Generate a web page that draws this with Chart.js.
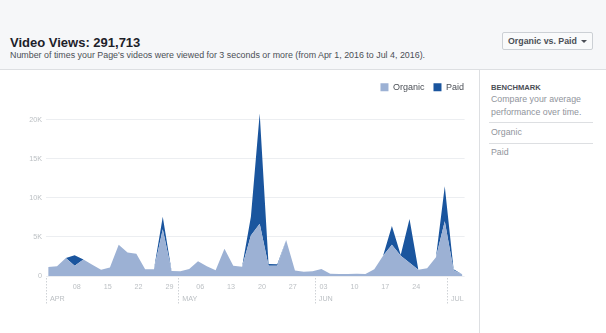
<!DOCTYPE html>
<html>
<head>
<meta charset="utf-8">
<script src="https://cdn.jsdelivr.net/npm/chart.js@4.4.1/dist/chart.umd.min.js"></script>
<style>
  body { margin: 0; width: 606px; height: 333px; background: #fff; font-family: 'Liberation Sans', Arial, sans-serif; position: relative; overflow: hidden; }
  .abs { position: absolute; white-space: nowrap; line-height: 1; }
  #header { position: absolute; left: 0; top: 0; width: 606px; height: 69px; background: #f6f7f9; border-bottom: 1px solid #dddfe2; }
  #title { left: 10px; top: 35.8px; font-size: 13px; font-weight: bold; color: #1d2129; }
  #subtitle { left: 10px; top: 50.5px; font-size: 8.9px; color: #4b4f56; }
  #button { position: absolute; left: 502px; top: 32px; width: 89px; height: 16px; border: 1px solid #ccd0d5; border-radius: 2px; background: #f9fafb; }
  #button span { position: absolute; left: 5px; top: 4px; font-size: 8.8px; font-weight: bold; color: #4b4f56; line-height: 1; }
  #button i { position: absolute; left: 78px; top: 7px; border-top: 3px solid #4b4f56; border-left: 3px solid transparent; border-right: 3px solid transparent; }
  #divider { position: absolute; left: 479px; top: 70px; width: 1px; height: 263px; background: #dddfe2; }
  .rule { position: absolute; left: 489px; width: 104px; height: 1px; background: #dddfe2; }
  .side { left: 491px; font-size: 8.8px; color: #90949c; }
  #bench { left: 491px; top: 83.7px; font-size: 7.6px; font-weight: bold; color: #4b4f56; }
  #chartWrap { position: absolute; left: 0; top: 70px; }
</style>
</head>
<body>
<div id="header"></div>
<div id="title" class="abs">Video Views: 291,713</div>
<div id="subtitle" class="abs">Number of times your Page's videos were viewed for 3 seconds or more (from Apr 1, 2016 to Jul 4, 2016).</div>
<div id="button"><span>Organic vs. Paid</span><i></i></div>
<div id="divider"></div>
<div id="bench" class="abs">BENCHMARK</div>
<div class="abs side" style="top:95.2px">Compare your average</div>
<div class="abs side" style="top:108.2px">performance over time.</div>
<div class="rule" style="top:122px"></div>
<div class="abs side" style="top:128.2px">Organic</div>
<div class="rule" style="top:143px"></div>
<div class="abs side" style="top:148.2px">Paid</div>
<div id="chartWrap"><canvas id="chart" width="479" height="263"></canvas></div>
<script>
// one point every other day, Apr 1 - Jul 4 2016
const dates = ['04-01','04-03','04-05','04-07','04-09','04-11','04-13','04-15','04-17','04-19','04-21','04-23','04-25','04-27','04-29',
  '05-01','05-03','05-05','05-07','05-09','05-11','05-13','05-15','05-17','05-19','05-21','05-23','05-25','05-27','05-29','05-31',
  '06-02','06-04','06-06','06-08','06-10','06-12','06-14','06-16','06-18','06-20','06-22','06-24','06-26','06-28','06-30',
  '07-02','07-04'];
const organic = [1150,1250,2300,1300,2100,1450,800,1100,4000,3000,2850,850,850,6000,650,
  600,900,1900,1250,750,3500,1300,1200,5200,6700,1300,1300,4600,700,550,600,
  900,300,250,250,300,250,850,2600,4000,2600,1700,800,1000,2400,
  7000,750,200];
const paid = [0,0,0,1350,0,0,0,0,0,0,0,0,0,1600,0,
  0,0,0,0,0,0,0,0,2400,14100,250,200,0,0,0,0,
  0,0,0,0,0,0,0,0,2400,100,5600,0,0,0,
  4500,100,0];
const dayTicks = ['04-08','04-15','04-22','04-29','05-06','05-13','05-20','05-27','06-03','06-10','06-17','06-24'];
const monthTicks = ['04-01','05-01','06-01','07-01'];
const monthLabels = ['APR','MAY','JUN','JUL'];
const yTicks = [0,5000,10000,15000,20000];

function dayOf(s) {
  const [m, d] = s.split('-').map(Number);
  return (Date.UTC(2016, m - 1, d) - Date.UTC(2016, 3, 1)) / 864e5;
}
// each value sits in the middle of its day
const pts = vals => vals.map((v, i) => ({ x: dayOf(dates[i]) + 0.5, y: v }));

const tickColor = '#bcc0c4';
Chart.defaults.font.family = "'Liberation Sans', Arial, sans-serif";

const monthLines = {
  id: 'monthLines',
  afterDraw(chart) {
    const s = chart.scales.x2, ctx = chart.ctx, b = chart.chartArea.bottom;
    ctx.save();
    ctx.strokeStyle = '#cfd2d6';
    ctx.lineWidth = 1;
    ctx.setLineDash([1.5, 1.5]);
    monthTicks.forEach(t => {
      const x = Math.round(s.getPixelForValue(dayOf(t))) + 0.5;
      ctx.beginPath();
      ctx.moveTo(x, b + 2);
      ctx.lineTo(x, b + 29);
      ctx.stroke();
    });
    ctx.restore();
  }
};

new Chart(document.getElementById('chart'), {
  type: 'line',
  data: {
    datasets: [
      { label: 'Organic', data: pts(organic), backgroundColor: '#9cb1d4', borderWidth: 0, fill: 'origin', pointRadius: 0, tension: 0 },
      { label: 'Paid', data: pts(paid), backgroundColor: '#1a559e', borderWidth: 0, fill: '-1', pointRadius: 0, tension: 0 }
    ]
  },
  options: {
    responsive: false,
    animation: false,
    devicePixelRatio: 1,
    layout: { padding: { top: 3.8, right: 6, bottom: 19, left: 0 } },
    plugins: {
      tooltip: { enabled: false },
      legend: {
        position: 'top',
        align: 'end',
        labels: { boxWidth: 8, boxHeight: 8, padding: 9, color: '#4b4f56', font: { size: 9 } }
      }
    },
    scales: {
      x: {
        type: 'linear', min: 0, max: 95,
        afterBuildTicks: s => { s.ticks = dayTicks.map(d => ({ value: dayOf(d) })); },
        afterFit: s => { s.height = 18; },
        grid: { display: false, drawTicks: false },
        border: { display: false },
        ticks: { autoSkip: false, maxRotation: 0, padding: 7, color: tickColor, font: { size: 7.2 },
          callback: (v, i) => dayTicks[i].slice(3) }
      },
      x2: {
        type: 'linear', position: 'bottom', min: 0, max: 95,
        afterBuildTicks: s => { s.ticks = monthTicks.map(d => ({ value: dayOf(d) })); },
        afterFit: s => { s.height = 20; },
        grid: { display: false, drawTicks: false },
        border: { display: false },
        ticks: { autoSkip: false, maxRotation: 0, align: 'start', labelOffset: 4, padding: 1, color: tickColor, font: { size: 7.2 },
          callback: (v, i) => monthLabels[i] }
      },
      y: {
        stacked: true, min: 0, max: 22300,
        afterBuildTicks: s => { s.ticks = yTicks.map(v => ({ value: v })); },
        afterFit: s => { s.width = 46; },
        grid: { color: '#eceef1', drawTicks: false },
        border: { display: false },
        ticks: { padding: 4, color: tickColor, font: { size: 7.2 },
          callback: v => v === 0 ? '0' : (v / 1000) + 'K' }
      },
      y2: {
        position: 'right', display: true,
        afterFit: s => { s.width = 8.4; },
        grid: { display: false },
        border: { display: false },
        ticks: { display: false }
      }
    }
  },
  plugins: [monthLines]
});
</script>
</body>
</html>
